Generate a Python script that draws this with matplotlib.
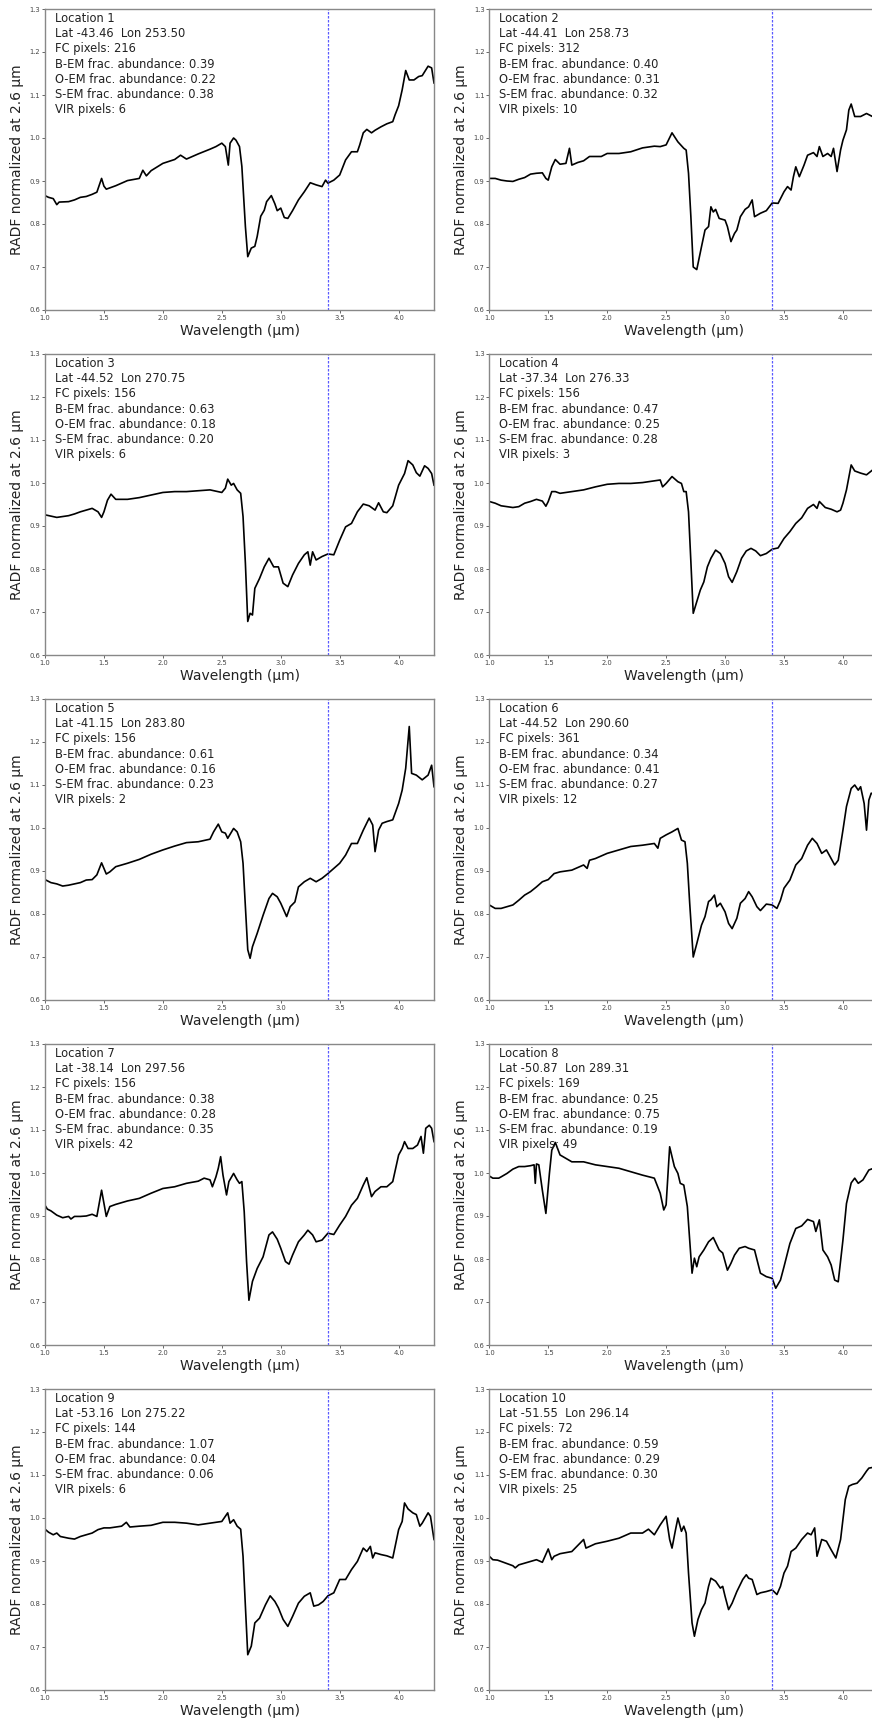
import matplotlib
matplotlib.use("Agg")
import matplotlib.pyplot as plt

# spectra, one wavelength / value pair of lists per location
wl1 = [1.0, 1.03, 1.07, 1.1, 1.12, 1.2, 1.25, 1.3, 1.35, 1.4, 1.44, 1.48, 1.5, 1.52, 1.6, 1.7, 1.8, 1.83, 1.86, 1.9,
       2.0, 2.1, 2.15, 2.2, 2.3, 2.4, 2.45, 2.5, 2.53, 2.555, 2.57, 2.6, 2.62, 2.65, 2.67, 2.7, 2.72, 2.75, 2.78, 2.8,
       2.83, 2.86, 2.88, 2.92, 2.95, 2.97, 3.0, 3.03, 3.06, 3.1, 3.15, 3.2, 3.25, 3.3, 3.35, 3.38, 3.4, 3.45, 3.5, 3.55,
       3.6, 3.65, 3.67, 3.7, 3.73, 3.77, 3.8, 3.85, 3.9, 3.95, 3.97, 4.0, 4.03, 4.06, 4.09, 4.13, 4.17, 4.2, 4.25, 4.28, 4.3]
rad1 = [0.866, 0.862, 0.859, 0.845, 0.851, 0.852, 0.856, 0.862, 0.864, 0.869, 0.874, 0.906, 0.888, 0.881, 0.889, 0.901, 0.906, 0.925, 0.912, 0.924,
        0.941, 0.950, 0.960, 0.951, 0.963, 0.974, 0.980, 0.988, 0.980, 0.937, 0.988, 1.000, 0.995, 0.980, 0.934, 0.794, 0.724, 0.744, 0.748, 0.771,
        0.818, 0.832, 0.852, 0.866, 0.847, 0.831, 0.837, 0.815, 0.813, 0.831, 0.856, 0.875, 0.896, 0.891, 0.887, 0.902, 0.895, 0.902, 0.914, 0.949,
        0.968, 0.968, 0.984, 1.012, 1.020, 1.012, 1.018, 1.026, 1.033, 1.038, 1.054, 1.075, 1.112, 1.157, 1.135, 1.135, 1.143, 1.145, 1.167, 1.163, 1.128]

wl2 = [1.0, 1.05, 1.1, 1.15, 1.2, 1.25, 1.3, 1.35, 1.4, 1.45, 1.48, 1.5, 1.53, 1.56, 1.6, 1.65, 1.68, 1.7, 1.75, 1.8,
       1.85, 1.9, 1.95, 2.0, 2.1, 2.2, 2.3, 2.4, 2.45, 2.5, 2.55, 2.6, 2.65, 2.67, 2.69, 2.71, 2.73, 2.76, 2.8, 2.83,
       2.86, 2.88, 2.9, 2.92, 2.95, 3.0, 3.02, 3.05, 3.08, 3.1, 3.13, 3.17, 3.2, 3.23, 3.25, 3.3, 3.35, 3.4, 3.45, 3.5,
       3.53, 3.56, 3.58, 3.6, 3.63, 3.67, 3.7, 3.75, 3.78, 3.8, 3.83, 3.87, 3.9, 3.92, 3.95, 3.98, 4.0, 4.03, 4.05, 4.07,
       4.1, 4.15, 4.2, 4.25, 4.3]
rad2 = [0.906, 0.906, 0.902, 0.900, 0.899, 0.904, 0.908, 0.916, 0.918, 0.919, 0.906, 0.902, 0.933, 0.950, 0.939, 0.941, 0.976, 0.937, 0.943, 0.947,
        0.957, 0.957, 0.957, 0.964, 0.964, 0.968, 0.977, 0.981, 0.980, 0.984, 1.012, 0.991, 0.976, 0.972, 0.918, 0.817, 0.700, 0.694, 0.747, 0.786,
        0.794, 0.840, 0.828, 0.834, 0.813, 0.809, 0.794, 0.759, 0.778, 0.786, 0.817, 0.834, 0.840, 0.856, 0.817, 0.825, 0.831, 0.849, 0.848, 0.875,
        0.887, 0.879, 0.910, 0.933, 0.910, 0.937, 0.960, 0.966, 0.957, 0.980, 0.957, 0.964, 0.957, 0.976, 0.922, 0.972, 0.995, 1.019, 1.065, 1.079,
        1.050, 1.050, 1.057, 1.050, 1.054]

wl3 = [1.0, 1.05, 1.1, 1.15, 1.2, 1.25, 1.3, 1.35, 1.4, 1.45, 1.48, 1.5, 1.53, 1.56, 1.6, 1.7, 1.8, 1.9, 2.0, 2.1,
       2.2, 2.3, 2.4, 2.5, 2.53, 2.55, 2.58, 2.6, 2.63, 2.66, 2.68, 2.7, 2.72, 2.74, 2.76, 2.78, 2.82, 2.86, 2.9, 2.94,
       2.98, 3.02, 3.06, 3.1, 3.15, 3.2, 3.23, 3.25, 3.27, 3.3, 3.35, 3.4, 3.45, 3.5, 3.55, 3.6, 3.65, 3.7, 3.75, 3.8,
       3.83, 3.87, 3.9, 3.95, 4.0, 4.05, 4.08, 4.12, 4.15, 4.18, 4.22, 4.25, 4.28, 4.3]
rad3 = [0.926, 0.923, 0.920, 0.922, 0.924, 0.928, 0.933, 0.937, 0.941, 0.933, 0.920, 0.933, 0.960, 0.974, 0.962, 0.962, 0.966, 0.972, 0.978, 0.980,
        0.980, 0.982, 0.984, 0.978, 0.988, 1.009, 0.995, 0.999, 0.984, 0.976, 0.922, 0.813, 0.678, 0.697, 0.693, 0.755, 0.778, 0.805, 0.825, 0.805,
        0.805, 0.767, 0.759, 0.786, 0.813, 0.833, 0.840, 0.809, 0.840, 0.821, 0.829, 0.835, 0.833, 0.867, 0.898, 0.906, 0.933, 0.951, 0.947, 0.937,
        0.954, 0.933, 0.931, 0.947, 0.995, 1.022, 1.052, 1.042, 1.024, 1.016, 1.040, 1.034, 1.022, 0.995]

wl4 = [1.0, 1.05, 1.1, 1.15, 1.2, 1.25, 1.3, 1.35, 1.4, 1.45, 1.48, 1.5, 1.53, 1.56, 1.6, 1.7, 1.8, 1.9, 2.0, 2.1,
       2.2, 2.3, 2.4, 2.45, 2.47, 2.5, 2.55, 2.6, 2.63, 2.65, 2.67, 2.69, 2.71, 2.73, 2.76, 2.79, 2.82, 2.85, 2.88, 2.92,
       2.96, 3.0, 3.03, 3.06, 3.1, 3.14, 3.18, 3.22, 3.26, 3.3, 3.35, 3.4, 3.45, 3.5, 3.55, 3.6, 3.65, 3.7, 3.75, 3.78,
       3.8, 3.85, 3.9, 3.95, 3.98, 4.0, 4.03, 4.07, 4.1, 4.15, 4.2, 4.25, 4.3]
rad4 = [0.957, 0.953, 0.947, 0.945, 0.943, 0.945, 0.953, 0.957, 0.962, 0.958, 0.946, 0.957, 0.980, 0.980, 0.976, 0.980, 0.984, 0.991, 0.997, 0.999,
        0.999, 1.001, 1.005, 1.007, 0.991, 0.999, 1.015, 1.003, 0.999, 0.980, 0.980, 0.933, 0.817, 0.697, 0.724, 0.751, 0.770, 0.805, 0.825, 0.844,
        0.836, 0.813, 0.782, 0.769, 0.794, 0.825, 0.842, 0.848, 0.842, 0.831, 0.836, 0.846, 0.849, 0.871, 0.887, 0.906, 0.919, 0.941, 0.950, 0.941,
        0.957, 0.943, 0.939, 0.933, 0.937, 0.953, 0.984, 1.042, 1.028, 1.023, 1.019, 1.030, 1.034]

wl5 = [1.0, 1.05, 1.1, 1.15, 1.2, 1.25, 1.3, 1.35, 1.4, 1.44, 1.48, 1.52, 1.55, 1.6, 1.7, 1.8, 1.9, 2.0, 2.1, 2.2,
       2.3, 2.4, 2.43, 2.47, 2.5, 2.53, 2.55, 2.6, 2.63, 2.66, 2.68, 2.7, 2.72, 2.74, 2.76, 2.8, 2.85, 2.9, 2.93, 2.97,
       3.0, 3.05, 3.08, 3.12, 3.15, 3.2, 3.25, 3.3, 3.35, 3.4, 3.45, 3.5, 3.55, 3.6, 3.65, 3.7, 3.75, 3.78, 3.8, 3.83,
       3.86, 3.9, 3.95, 4.0, 4.03, 4.06, 4.09, 4.11, 4.15, 4.2, 4.25, 4.28, 4.3]
rad5 = [0.880, 0.873, 0.870, 0.865, 0.867, 0.870, 0.873, 0.879, 0.880, 0.891, 0.919, 0.893, 0.898, 0.910, 0.918, 0.927, 0.939, 0.949, 0.958, 0.966,
        0.968, 0.974, 0.991, 1.009, 0.991, 0.988, 0.976, 0.999, 0.991, 0.968, 0.918, 0.817, 0.717, 0.697, 0.724, 0.755, 0.797, 0.836, 0.848, 0.840,
        0.825, 0.794, 0.817, 0.828, 0.863, 0.875, 0.883, 0.875, 0.883, 0.894, 0.906, 0.918, 0.937, 0.964, 0.964, 0.995, 1.023, 1.007, 0.945, 0.995,
        1.011, 1.015, 1.019, 1.057, 1.088, 1.139, 1.236, 1.127, 1.123, 1.112, 1.123, 1.146, 1.096]

wl6 = [1.0, 1.05, 1.1, 1.15, 1.2, 1.25, 1.3, 1.35, 1.4, 1.45, 1.5, 1.55, 1.6, 1.7, 1.8, 1.83, 1.85, 1.9, 2.0, 2.1,
       2.2, 2.3, 2.4, 2.43, 2.45, 2.5, 2.55, 2.6, 2.63, 2.66, 2.68, 2.7, 2.73, 2.76, 2.8, 2.83, 2.86, 2.88, 2.91, 2.93,
       2.96, 3.0, 3.03, 3.06, 3.1, 3.13, 3.17, 3.2, 3.23, 3.27, 3.3, 3.35, 3.4, 3.44, 3.47, 3.5, 3.55, 3.6, 3.65, 3.7,
       3.74, 3.78, 3.82, 3.86, 3.9, 3.93, 3.96, 4.0, 4.03, 4.07, 4.1, 4.13, 4.15, 4.18, 4.2, 4.22, 4.24, 4.3]
rad6 = [0.821, 0.813, 0.813, 0.817, 0.821, 0.832, 0.844, 0.852, 0.863, 0.875, 0.880, 0.894, 0.898, 0.902, 0.914, 0.906, 0.925, 0.929, 0.941, 0.949,
        0.957, 0.960, 0.964, 0.953, 0.976, 0.984, 0.991, 0.999, 0.972, 0.968, 0.918, 0.825, 0.700, 0.731, 0.774, 0.794, 0.829, 0.833, 0.844, 0.817,
        0.825, 0.805, 0.778, 0.766, 0.790, 0.825, 0.836, 0.852, 0.840, 0.817, 0.808, 0.823, 0.821, 0.813, 0.832, 0.860, 0.879, 0.914, 0.929, 0.960,
        0.976, 0.964, 0.941, 0.949, 0.929, 0.914, 0.925, 0.995, 1.050, 1.092, 1.100, 1.088, 1.096, 1.057, 0.995, 1.065, 1.081, 1.073]

wl7 = [1.0, 1.02, 1.05, 1.1, 1.15, 1.2, 1.22, 1.25, 1.3, 1.35, 1.4, 1.44, 1.48, 1.52, 1.55, 1.6, 1.7, 1.8, 1.9, 2.0,
       2.1, 2.2, 2.3, 2.35, 2.4, 2.42, 2.45, 2.47, 2.49, 2.51, 2.54, 2.56, 2.6, 2.63, 2.65, 2.67, 2.69, 2.71, 2.73, 2.76,
       2.8, 2.85, 2.9, 2.93, 2.97, 3.0, 3.04, 3.07, 3.1, 3.15, 3.2, 3.23, 3.27, 3.3, 3.35, 3.4, 3.45, 3.5, 3.55, 3.6,
       3.65, 3.7, 3.73, 3.77, 3.8, 3.85, 3.9, 3.95, 4.0, 4.03, 4.05, 4.08, 4.12, 4.16, 4.19, 4.21, 4.23, 4.26, 4.28, 4.3]
rad7 = [0.925, 0.916, 0.912, 0.902, 0.896, 0.899, 0.893, 0.899, 0.899, 0.900, 0.904, 0.899, 0.960, 0.899, 0.922, 0.927, 0.935, 0.941, 0.953, 0.964,
        0.968, 0.976, 0.981, 0.988, 0.984, 0.968, 0.991, 1.011, 1.038, 0.995, 0.949, 0.980, 0.999, 0.984, 0.976, 0.980, 0.910, 0.794, 0.704, 0.748,
        0.778, 0.805, 0.856, 0.863, 0.846, 0.825, 0.794, 0.788, 0.809, 0.840, 0.856, 0.867, 0.856, 0.840, 0.844, 0.860, 0.857, 0.879, 0.899, 0.925,
        0.941, 0.972, 0.989, 0.945, 0.957, 0.968, 0.968, 0.980, 1.042, 1.057, 1.073, 1.057, 1.057, 1.065, 1.085, 1.046, 1.104, 1.111, 1.104, 1.073]

wl8 = [1.0, 1.03, 1.08, 1.1, 1.15, 1.2, 1.25, 1.3, 1.35, 1.38, 1.39, 1.4, 1.42, 1.45, 1.48, 1.51, 1.53, 1.56, 1.6, 1.7,
       1.8, 1.9, 2.0, 2.1, 2.2, 2.3, 2.4, 2.45, 2.48, 2.5, 2.53, 2.57, 2.6, 2.62, 2.65, 2.68, 2.7, 2.72, 2.74, 2.76,
       2.78, 2.82, 2.86, 2.9, 2.95, 2.98, 3.02, 3.05, 3.08, 3.12, 3.17, 3.2, 3.25, 3.3, 3.35, 3.4, 3.43, 3.47, 3.5, 3.55,
       3.6, 3.65, 3.7, 3.75, 3.77, 3.8, 3.83, 3.87, 3.9, 3.93, 3.96, 4.0, 4.03, 4.07, 4.1, 4.13, 4.17, 4.22, 4.3]
rad8 = [0.993, 0.988, 0.988, 0.991, 0.999, 1.009, 1.015, 1.015, 1.017, 1.019, 0.976, 1.021, 1.019, 0.960, 0.906, 0.999, 1.053, 1.071, 1.042, 1.026,
        1.026, 1.019, 1.015, 1.011, 1.003, 0.995, 0.988, 0.953, 0.914, 0.926, 1.061, 1.015, 0.999, 0.976, 0.972, 0.922, 0.844, 0.767, 0.802, 0.782,
        0.805, 0.821, 0.840, 0.850, 0.821, 0.814, 0.774, 0.790, 0.809, 0.825, 0.829, 0.825, 0.821, 0.767, 0.759, 0.755, 0.732, 0.751, 0.782, 0.836,
        0.871, 0.877, 0.892, 0.887, 0.864, 0.891, 0.821, 0.805, 0.786, 0.751, 0.747, 0.844, 0.929, 0.977, 0.988, 0.976, 0.984, 1.007, 1.015]

wl9 = [1.0, 1.03, 1.07, 1.1, 1.13, 1.2, 1.25, 1.3, 1.35, 1.4, 1.45, 1.5, 1.55, 1.6, 1.65, 1.69, 1.72, 1.8, 1.9, 2.0,
       2.1, 2.2, 2.3, 2.4, 2.5, 2.55, 2.57, 2.6, 2.63, 2.66, 2.68, 2.7, 2.72, 2.75, 2.78, 2.82, 2.87, 2.91, 2.95, 2.98,
       3.02, 3.06, 3.1, 3.15, 3.2, 3.25, 3.28, 3.32, 3.36, 3.4, 3.45, 3.5, 3.55, 3.6, 3.65, 3.7, 3.73, 3.76, 3.78, 3.8,
       3.85, 3.9, 3.95, 4.0, 4.03, 4.05, 4.08, 4.12, 4.15, 4.18, 4.2, 4.25, 4.27, 4.3]
rad9 = [0.974, 0.967, 0.961, 0.965, 0.957, 0.953, 0.951, 0.957, 0.961, 0.965, 0.973, 0.977, 0.977, 0.979, 0.981, 0.990, 0.979, 0.981, 0.983, 0.990,
        0.990, 0.988, 0.984, 0.988, 0.992, 1.012, 0.988, 0.996, 0.981, 0.974, 0.911, 0.795, 0.682, 0.702, 0.756, 0.767, 0.798, 0.819, 0.806, 0.791,
        0.764, 0.748, 0.771, 0.802, 0.818, 0.826, 0.795, 0.798, 0.806, 0.819, 0.826, 0.857, 0.857, 0.880, 0.899, 0.930, 0.922, 0.934, 0.907, 0.919,
        0.915, 0.912, 0.907, 0.973, 0.992, 1.035, 1.021, 1.012, 1.008, 0.981, 0.988, 1.012, 1.004, 0.950]

wl10 = [1.0, 1.03, 1.07, 1.1, 1.15, 1.2, 1.22, 1.25, 1.3, 1.35, 1.4, 1.45, 1.5, 1.53, 1.55, 1.6, 1.7, 1.8, 1.82, 1.9,
        2.0, 2.1, 2.2, 2.3, 2.35, 2.4, 2.45, 2.5, 2.53, 2.55, 2.58, 2.6, 2.63, 2.65, 2.67, 2.69, 2.72, 2.74, 2.77, 2.8,
        2.83, 2.86, 2.88, 2.92, 2.96, 2.98, 3.0, 3.03, 3.06, 3.1, 3.15, 3.18, 3.2, 3.23, 3.27, 3.3, 3.35, 3.4, 3.44, 3.47,
        3.5, 3.53, 3.56, 3.6, 3.65, 3.7, 3.73, 3.76, 3.78, 3.82, 3.86, 3.9, 3.94, 3.98, 4.02, 4.05, 4.08, 4.12, 4.16, 4.2,
        4.22, 4.3]
rad10 = [0.911, 0.903, 0.902, 0.899, 0.894, 0.889, 0.884, 0.891, 0.895, 0.899, 0.903, 0.897, 0.928, 0.903, 0.911, 0.917, 0.922, 0.950, 0.930, 0.940,
         0.946, 0.953, 0.965, 0.965, 0.974, 0.961, 0.984, 1.004, 0.950, 0.930, 0.973, 1.000, 0.969, 0.981, 0.965, 0.872, 0.756, 0.725, 0.764, 0.787,
         0.802, 0.841, 0.860, 0.853, 0.837, 0.841, 0.818, 0.787, 0.802, 0.829, 0.857, 0.868, 0.860, 0.857, 0.822, 0.826, 0.829, 0.833, 0.822, 0.841,
         0.872, 0.888, 0.922, 0.930, 0.950, 0.965, 0.961, 0.977, 0.911, 0.950, 0.946, 0.926, 0.907, 0.950, 1.043, 1.074, 1.078, 1.081, 1.093, 1.109,
         1.116, 1.120]

lat = [-43.46, -44.41, -44.52, -37.34, -41.15, -44.52, -38.14, -50.87, -53.16, -51.55]
lon = [253.50, 258.73, 270.75, 276.33, 283.80, 290.60, 297.56, 289.31, 275.22, 296.14]
fc_pixels = [216, 312, 156, 156, 156, 361, 156, 169, 144, 72]
b_em = [0.39, 0.40, 0.63, 0.47, 0.61, 0.34, 0.38, 0.25, 1.07, 0.59]
o_em = [0.22, 0.31, 0.18, 0.25, 0.16, 0.41, 0.28, 0.75, 0.04, 0.29]
s_em = [0.38, 0.32, 0.20, 0.28, 0.23, 0.27, 0.35, 0.19, 0.06, 0.30]
vir_pixels = [6, 10, 6, 3, 2, 12, 42, 49, 6, 25]

wavelengths = [wl1, wl2, wl3, wl4, wl5, wl6, wl7, wl8, wl9, wl10]
spectra = [rad1, rad2, rad3, rad4, rad5, rad6, rad7, rad8, rad9, rad10]

W, H = 872, 1721
fig = plt.figure(figsize=(W / 100, H / 100), dpi=100)

for i in range(10):
    row, col = divmod(i, 2)
    left = 45 if col == 0 else 489.3
    top = 9 + 345 * row
    # right column axes run past the figure edge, as in the reference
    ax = fig.add_axes([left / W, 1 - (top + 301) / H, 389 / W, 301 / H])

    ax.plot(wavelengths[i], spectra[i], color='black', lw=1.2)
    ax.axvline(3.4, color='#5a5aff', lw=0.9, ls=(0, (2, 1.2)))

    ax.set_xlim(1.0, 4.3)
    ax.set_ylim(0.6, 1.3)
    ax.set_xticks([1.0, 1.5, 2.0, 2.5, 3.0, 3.5, 4.0])
    ax.set_yticks([0.6, 0.7, 0.8, 0.9, 1.0, 1.1, 1.2, 1.3])
    ax.tick_params(labelsize=4.9, colors='#666666', labelcolor='#444444', length=2.2, width=0.7, pad=1.3)
    for sp in ax.spines.values():
        sp.set_color('#888888')
        sp.set_linewidth(1.0)

    ax.set_xlabel('Wavelength (µm)', fontsize=10, color='#222222')
    ax.set_ylabel('RADF normalized at 2.6 µm', fontsize=10, color='#222222')
    ax.xaxis.set_label_coords(0.5, -0.046)
    ax.yaxis.set_label_coords(-0.054 if col == 0 else -0.055, 0.5)

    info = (f"Location {i + 1}\n"
            f"Lat {lat[i]:.2f}  Lon {lon[i]:.2f}\n"
            f"FC pixels: {fc_pixels[i]}\n"
            f"B-EM frac. abundance: {b_em[i]:.2f}\n"
            f"O-EM frac. abundance: {o_em[i]:.2f}\n"
            f"S-EM frac. abundance: {s_em[i]:.2f}\n"
            f"VIR pixels: {vir_pixels[i]}")
    ax.text(0.026, 0.99, info, transform=ax.transAxes, va='top', ha='left',
            fontsize=8.3, color='#222222', linespacing=1.22)

fig.savefig('out.png', dpi=100)
